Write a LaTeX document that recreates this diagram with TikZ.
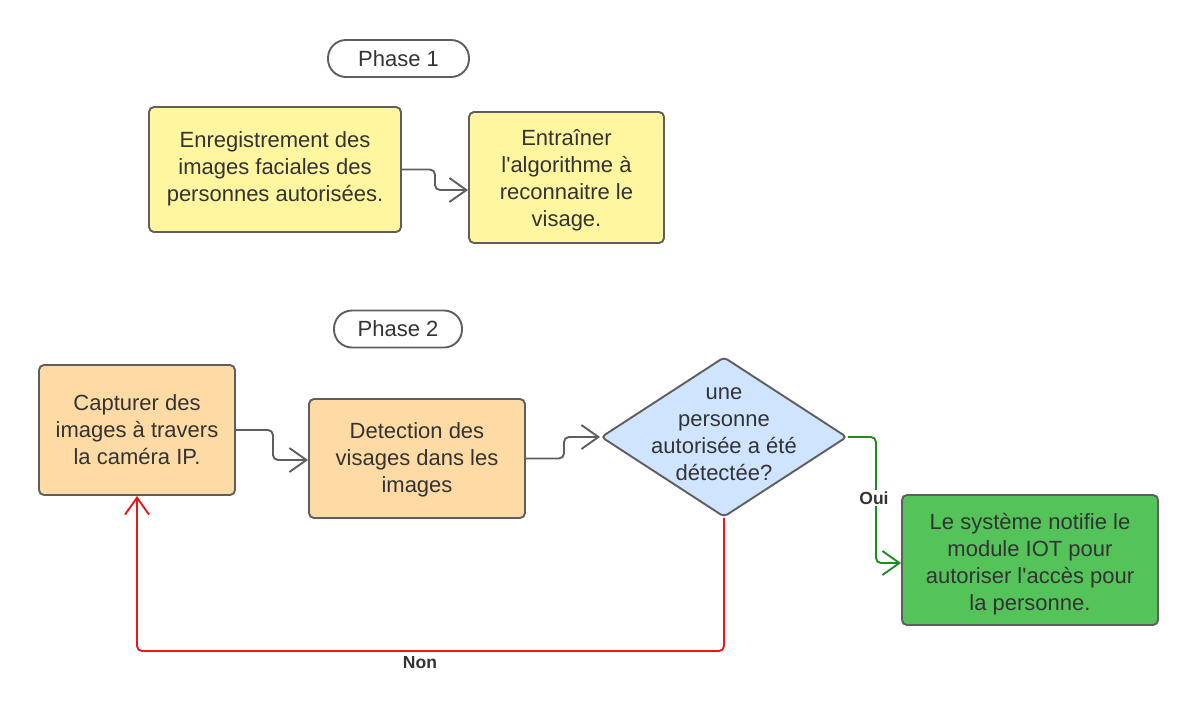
\documentclass[tikz,border=0pt]{standalone}
\usepackage{fontspec}
\setmainfont{Liberation Sans}[Ligatures=TeXOff]
\usetikzlibrary{arrows.meta,shapes.geometric,calc}
\definecolor{txt}{HTML}{333333}
\definecolor{edge}{HTML}{5E5E5E}
\definecolor{yel}{HTML}{FFF69F}
\definecolor{ora}{HTML}{FEDBA4}
\definecolor{blu}{HTML}{CFE4FF}
\definecolor{grn}{HTML}{54C45A}
\definecolor{redl}{HTML}{E81818}
\definecolor{grnl}{HTML}{1E8C1E}
\tikzset{
  box/.style={draw=edge, line width=1.9pt, rounded corners=5pt, inner sep=0pt},
  intext/.style={align=center, text=txt, font=\fontsize{22}{27}\selectfont, inner sep=0pt},
  pill/.style={draw=edge, line width=1.9pt, rounded corners=18pt, align=center,
    text=txt, font=\fontsize{22}{24}\selectfont, fill=white, minimum height=37pt},
  dia/.style={draw=edge, line width=1.9pt, shape=diamond, rounded corners=4pt, fill=blu,
    inner sep=0pt, minimum width=246pt, minimum height=160pt},
  conn/.style={draw=edge, line width=1.9pt,
    -{Straight Barb[length=17pt,width=24pt,line width=1.9pt]}},
  lbl/.style={font=\fontsize{17.5}{20}\selectfont\bfseries, text=txt, fill=white, inner sep=2pt},
}
\begin{document}
\begin{tikzpicture}[x=1pt,y=-1pt]
\useasboundingbox (0,0) rectangle (1200,716);

\node[pill, minimum width=141pt] (p1) at (398.5,58.5) {Phase 1};
\node[box, fill=yel, minimum width=252pt, minimum height=125pt] (b1) at (275,169.5) {};
\node[intext] (t1) at (275,168.5)
  {Enregistrement des\\images faciales des\\personnes autorisées.};
\node[box, fill=yel, minimum width=195pt, minimum height=131pt] (b2) at (566.5,177.5) {};
\node[intext] (t2) at (566.5,180.5)
  {Entraîner\\l'algorithme à\\reconnaitre le\\visage.};

\node[pill, minimum width=128pt] (p2) at (398,329) {Phase 2};
\node[box, fill=ora, minimum width=196pt, minimum height=130pt] (b3) at (137,430) {};
\node[intext] (t3) at (137,430)
  {Capturer des\\images à travers\\la caméra IP.};
\node[box, fill=ora, minimum width=216pt, minimum height=119pt] (b4) at (417,458.5) {};
\node[intext] (t4) at (417,459.5)
  {Detection des\\visages dans les\\images};
\node[dia] (d) at (724,437) {};
\node[intext] (dt) at (724,434)
  {une\\personne\\autorisée a été\\détectée?};
\node[box, fill=grn, minimum width=256pt, minimum height=130pt] (g) at (1030,560) {};
\node[intext] (gt) at (1030,564.5)
  {Le système notifie le\\module IOT pour\\autoriser l'accès pour\\la personne.};

\draw[conn] (b1.east) [rounded corners=5pt] -- ++(33,0) |- ([yshift=-12.5pt]b2.west) [sharp corners];
\draw[conn] (b3.east) [rounded corners=5pt] -- ++(37,0) |- ([yshift=-1.5pt]b4.west) [sharp corners];
\draw[conn] (b4.east) [rounded corners=5pt] -- ++(38,0) |- (d.west) [sharp corners];
\draw[conn, draw=grnl] (d.east) [rounded corners=5pt] -- ++(28,0) |- ([yshift=-3pt]g.west) [sharp corners];
\node[lbl] (oui) at (874,498) {Oui};
\coordinate (r) at (724,651);
\draw[conn, draw=redl] (d.south) [rounded corners=5pt] -- (r) -| (b3.south) [sharp corners];
\node[lbl, fill=none] (non) at (420,663) {Non};
\end{tikzpicture}
\end{document}
